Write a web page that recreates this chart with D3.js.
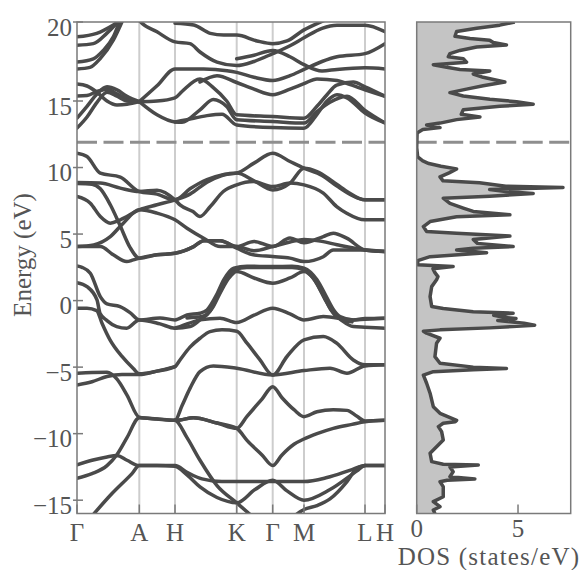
<!DOCTYPE html>
<html>
<head>
<meta charset="utf-8">
<script src="https://cdn.jsdelivr.net/npm/d3@7"></script>
<style>
  html, body { margin: 0; padding: 0; background: #fff; }
  svg { display: block; }
  text { font-family: "Liberation Serif", "DejaVu Serif", serif; fill: #555; }
</style>
</head>
<body>
<svg id="chart" width="583" height="570"></svg>
<script>
// High-symmetry points along the k-path (path length, 1/Å-like units)
const kLabels = ["Γ", "A", "H", "K", "Γ", "M", "L", "H"];
const kNodes  = [0, 0.623, 0.98, 1.597, 1.957, 2.27, 2.88, 3.08];

// Energy axis ticks (eV)
const energyTicks = [-15, -10, -5, 0, 5, 10, 15, 20];
const dosTicks = [0, 5];
const cutEnergy = 11.9;

// Bands as [k, E] samples
const lowerBands = [
  [[0.16,-16.1],[0.35,-14.5],[0.55,-13.0],[0.623,-12.4],[0.80,-12.4],[0.98,-12.45],[1.10,-13.1],[1.23,-14.0],[1.40,-14.8],[1.597,-15.2],[1.78,-14.2],[1.957,-13.5],[2.10,-14.3],[2.27,-15.0],[2.53,-14.2],[2.80,-12.8],[2.88,-12.4],[3.08,-12.4]],
  [[0,-12.35],[0.15,-12.0],[0.30,-11.75],[0.397,-11.65],[0.50,-12.0],[0.623,-12.4],[0.80,-12.4],[0.98,-12.4],[1.10,-12.9],[1.25,-13.4],[1.45,-13.6],[1.597,-13.6],[1.957,-13.6],[2.27,-13.6],[2.50,-13.3],[2.75,-12.7],[2.88,-12.4],[3.08,-12.4]],
  [[0,-13.35],[0.15,-13.0],[0.30,-12.4],[0.397,-11.6],[0.50,-10.3],[0.623,-8.8],[0.80,-8.9],[0.98,-9.0],[1.10,-10.3],[1.23,-12.0],[1.40,-13.9],[1.597,-15.2],[1.75,-16.2]],
  [[2.17,-16.2],[2.27,-15.7],[2.40,-15.4],[2.53,-14.9],[2.70,-13.6],[2.80,-12.6],[2.88,-12.4]],
  [[0.98,-9.0],[1.03,-8.97],[1.163,-8.8],[1.40,-9.2],[1.597,-9.6],[1.70,-8.7],[1.85,-7.4],[1.957,-6.47],[2.05,-7.3],[2.17,-8.2],[2.27,-8.72],[2.40,-8.35],[2.563,-8.2],[2.70,-8.25],[2.80,-8.7],[2.88,-9.05],[3.08,-9.0]],
  [[0.98,-9.0],[1.03,-8.97],[1.163,-8.8],[1.40,-9.2],[1.597,-9.6],[1.70,-10.5],[1.85,-11.6],[1.957,-12.4],[2.05,-11.6],[2.17,-10.8],[2.27,-10.4],[2.40,-10.0],[2.563,-9.6],[2.75,-9.3],[2.88,-9.1],[3.08,-9.0]],
  [[0,-5.46],[0.15,-5.4],[0.30,-5.38],[0.40,-5.9],[0.50,-7.1],[0.623,-8.77],[0.80,-8.9],[0.98,-9.0],[1.05,-7.9],[1.13,-6.6],[1.23,-5.34],[1.363,-4.91],[1.597,-5.08],[1.957,-5.59],[2.27,-5.26],[2.53,-5.08],[2.70,-5.46],[2.88,-4.91],[3.08,-4.83]],
  [[0,-6.34],[0.15,-6.1],[0.30,-5.7],[0.45,-5.55],[0.623,-5.56],[0.80,-5.3],[0.98,-4.96],[1.03,-4.46],[1.13,-3.5],[1.23,-2.83],[1.33,-2.33],[1.45,-2.2],[1.597,-2.3],[1.70,-3.2],[1.83,-4.46],[1.957,-5.59],[2.10,-4.2],[2.27,-2.95],[2.463,-2.7],[2.597,-3.2],[2.763,-4.46],[2.88,-4.83],[3.08,-4.83]],
  [[0,-0.57],[0.10,-0.57],[0.197,-0.75],[0.25,-1.7],[0.33,-2.95],[0.45,-4.2],[0.563,-5.1],[0.623,-5.5],[0.80,-5.3],[0.98,-4.96]]
];

const valenceBands = [
  [[0,2.6],[0.05,2.5],[0.133,2.06],[0.233,0.3],[0.30,-0.25],[0.43,-0.45],[0.53,-0.9],[0.623,-1.45],[0.83,-1.3],[0.98,-1.45],[1.10,-1.08],[1.23,-0.95],[1.30,-0.7],[1.40,0.5],[1.467,1.56],[1.567,2.44],[1.70,2.58],[1.957,2.56],[2.15,2.58],[2.27,2.44],[2.40,1.56],[2.50,0.2],[2.567,-0.7],[2.63,-1.2],[2.763,-1.45],[2.88,-1.4],[3.08,-1.32]],
  [[0,1.35],[0.10,1.05],[0.20,0.05],[0.23,-0.95],[0.30,-1.5],[0.397,-1.95],[0.497,-2.07],[0.623,-1.45],[0.83,-1.75],[0.98,-2.07],[1.13,-1.95],[1.23,-1.45],[1.33,-0.8],[1.42,0.6],[1.49,1.5],[1.58,2.35],[1.70,2.48],[1.957,2.48],[2.15,2.48],[2.26,2.35],[2.38,1.5],[2.48,0.1],[2.56,-0.9],[2.65,-1.5],[2.763,-1.95],[2.88,-2.0],[3.08,-2.07]],
  [[1.10,-1.3],[1.25,-1.2],[1.35,-0.6],[1.44,0.7],[1.52,1.7],[1.597,2.18],[1.77,1.7],[1.957,1.31],[2.13,1.7],[2.27,2.18],[2.36,1.7],[2.45,0.6],[2.54,-0.7],[2.62,-1.3],[2.75,-1.6]],
  [[0.98,-2.07],[1.03,-1.95],[1.23,-1.45],[1.43,-1.32],[1.597,-1.65],[1.77,-1.1],[1.957,-0.57],[2.13,-1.0],[2.27,-1.45],[2.463,-1.2],[2.763,-1.45],[2.88,-1.35],[3.08,-1.32]]
];

const middleBands = [
  [[0,11.08],[0.10,10.83],[0.233,9.58],[0.433,9.28],[0.623,8.2],[0.80,8.0],[0.98,7.57],[1.13,8.4],[1.30,9.1],[1.45,9.45],[1.597,9.58],[1.77,10.33],[1.957,11.08],[2.13,10.45],[2.27,9.95],[2.45,9.4],[2.60,8.6],[2.75,7.9],[2.88,7.57],[3.08,7.57]],
  [[0,8.87],[0.233,8.83],[0.433,8.45],[0.623,8.2],[0.80,8.3],[0.98,7.57],[1.03,7.19],[1.16,6.69],[1.23,6.32],[1.333,7.07],[1.463,8.2],[1.597,8.7],[1.763,8.95],[1.957,8.57],[2.13,8.83],[2.27,8.7],[2.463,8.08],[2.597,7.07],[2.697,6.57],[2.88,6.07],[3.08,6.07]],
  [[0,8.8],[0.15,8.75],[0.233,8.4],[0.333,7.2],[0.433,5.6],[0.53,4.0],[0.623,3.19],[0.80,3.44],[0.98,3.56],[1.167,4.06],[1.267,4.5],[1.433,4.5],[1.597,4.06],[1.77,4.45],[1.957,4.06],[2.13,4.7],[2.27,4.35],[2.463,4.81],[2.563,5.07],[2.697,4.69],[2.88,3.81],[3.08,3.69]],
  [[0,7.82],[0.133,7.32],[0.233,6.32],[0.333,5.82],[0.433,6.07],[0.623,6.82],[0.80,7.2],[0.98,7.57],[1.13,8.0],[1.30,8.9],[1.45,9.4],[1.597,9.58],[1.77,9.0],[1.957,8.32],[2.13,8.83],[2.27,9.95],[2.40,9.7],[2.55,9.0],[2.70,8.2],[2.88,7.57],[3.08,7.57]],
  [[0,4.06],[0.167,4.19],[0.333,4.81],[0.463,5.82],[0.623,6.82],[0.80,6.57],[0.98,6.07],[1.10,5.44],[1.267,4.69],[1.433,4.06],[1.597,4.06],[1.77,3.75],[1.957,4.06],[2.13,4.4],[2.27,4.6],[2.45,4.45],[2.60,4.2],[2.88,3.81],[3.08,3.69]],
  [[0,4.06],[0.233,4.06],[0.363,3.44],[0.497,2.93],[0.563,3.06],[0.623,3.19],[0.80,3.44],[0.98,3.56],[1.167,4.06],[1.267,4.5],[1.433,4.5],[1.597,3.94],[1.763,3.44],[1.957,3.31],[2.13,3.19],[2.27,2.93],[2.463,3.3],[2.563,3.8],[2.88,3.81],[3.08,3.69]]
];

const conductionBands = [
  [[0,19.06],[0.197,19.28],[0.363,19.81],[0.48,20.3]],
  [[0,18.53],[0.163,18.63],[0.297,19.28],[0.397,19.92],[0.45,20.3]],
  [[0,17.46],[0.163,17.67],[0.263,18.2],[0.363,19.06],[0.43,20.06],[0.45,20.3]],
  [[0,17.03],[0.13,17.13],[0.23,17.67],[0.363,18.85],[0.47,20.3]],
  [[0,16.07],[0.10,15.95],[0.20,15.55],[0.30,15.0],[0.40,14.7],[0.50,14.75],[0.623,14.95]],
  [[0,15.32],[0.10,15.35],[0.20,15.6],[0.30,15.75],[0.40,15.45],[0.50,15.15],[0.623,14.95]],
  [[0,13.71],[0.10,14.6],[0.20,15.45],[0.30,15.9],[0.40,15.7],[0.50,15.3],[0.623,14.95]],
  [[0,12.96],[0.10,13.8],[0.20,14.9],[0.30,15.55],[0.40,15.3],[0.50,15.0],[0.623,14.95]],
  [[0.623,14.95],[0.80,15.0],[0.98,15.2],[1.05,15.6],[1.23,16.39],[1.363,15.85],[1.497,15.0],[1.597,13.96],[1.957,13.83],[2.27,13.71],[2.40,14.6],[2.50,15.4],[2.597,16.0],[2.763,16.2],[2.88,15.9],[3.08,15.3]],
  [[0.623,14.95],[0.80,13.96],[0.98,13.42],[1.05,13.4],[1.23,14.34],[1.363,15.1],[1.497,14.59],[1.597,13.59],[1.957,13.46],[2.27,13.34],[2.40,14.2],[2.53,14.9],[2.70,15.3],[2.88,14.3],[3.08,13.35]],
  [[0.98,13.42],[1.10,13.6],[1.30,13.9],[1.45,14.0],[1.597,13.2],[1.957,13.0],[2.27,12.96],[2.40,14.0],[2.50,15.0],[2.60,15.4],[2.70,15.2],[2.88,14.1],[3.08,13.35]],
  [[0.623,14.95],[0.80,15.96],[0.98,17.03],[1.267,17.03],[1.50,16.92],[1.597,16.81],[1.77,16.5],[1.957,16.3],[2.13,16.6],[2.27,17.0],[2.45,17.5],[2.60,17.8],[2.88,18.0],[3.08,18.63]],
  [[1.23,16.2],[1.40,16.6],[1.597,16.17],[1.77,15.75],[1.957,15.4],[2.13,15.75],[2.27,16.1],[2.40,16.4],[2.60,16.3],[2.75,16.0],[2.88,15.7],[3.08,15.3]],
  [[0.60,20.3],[0.623,20.1],[0.80,19.38],[0.98,18.74],[1.13,18.63],[1.23,18.1],[1.40,17.46],[1.597,17.24],[1.77,17.5],[1.957,18.0],[2.13,18.5],[2.27,19.0],[2.45,19.6],[2.60,19.8],[2.88,19.8],[3.08,19.38]],
  [[0.98,19.92],[1.167,19.81],[1.333,19.28],[1.467,19.17],[1.597,19.17],[1.80,18.8],[1.957,18.63],[2.10,18.8],[2.27,19.5],[2.40,19.9],[2.55,20.3]],
  [[1.597,17.67],[1.77,17.9],[1.957,18.2],[2.13,17.8],[2.27,17.3],[2.45,16.9],[2.60,17.0],[2.88,17.1],[3.08,17.03]]
];

// Total density of states (states/eV) sampled on an energy grid
const dosEnergy = [20.0,19.8,19.6,19.4,19.1,18.95,18.85,18.7,18.55,18.42,18.2,18.0,17.8,17.67,17.46,17.3,17.13,17.0,16.9,16.71,16.5,16.2,15.96,15.75,15.53,15.32,15.11,14.95,14.75,14.6,14.34,14.0,13.8,13.6,13.34,13.2,13.0,12.85,12.6,11.5,10.8,10.5,10.3,10.1,9.9,9.6,9.3,9.0,8.85,8.6,8.5,8.35,8.2,8.05,7.85,7.7,7.3,6.95,6.7,6.45,6.3,5.94,5.56,5.2,5.07,4.85,4.6,4.3,4.06,3.94,3.8,3.6,3.3,3.0,2.7,2.56,2.4,2.1,1.8,1.56,1.05,0.3,-0.45,-0.6,-0.83,-0.95,-1.1,-1.25,-1.35,-1.5,-1.7,-1.85,-2.05,-2.2,-2.3,-2.45,-2.83,-3.2,-4.21,-4.71,-5.0,-5.1,-5.2,-5.34,-5.6,-6.21,-6.96,-7.97,-8.47,-9.0,-9.1,-9.22,-9.47,-9.85,-10.47,-10.98,-11.47,-12.1,-12.3,-12.35,-12.5,-12.86,-13.23,-13.4,-13.5,-13.61,-13.98,-14.74,-15.11,-15.49,-15.74,-16.0];
const dosValue  = [4.84,4.1,2.96,1.97,1.89,2.63,3.6,3.78,4.43,2.96,2.13,1.64,1.56,2.3,2.46,0.82,1.48,2.13,3.61,2.79,3.28,4.35,3.28,2.46,1.64,2.3,3.61,4.93,5.75,4.1,2.3,2.2,3.12,1.97,1.15,0.49,1.15,0.3,0.02,0.0,0.05,0.3,0.6,1.2,1.97,1.6,1.15,1.3,3.1,4.4,7.22,3.6,4.4,5.75,3.6,1.31,1.64,2.3,2.79,4.6,1.97,0.66,0.33,0.49,1.97,4.6,2.79,3.0,4.76,2.79,1.97,3.45,0.66,0.05,0.05,1.8,0.8,0.9,1.05,0.98,0.74,0.66,0.74,1.31,2.79,4.76,3.8,4.3,4.9,4.0,5.3,5.82,3.6,1.15,0.33,0.49,1.15,0.98,0.9,1.15,2.79,4.43,2.79,0.82,0.33,0.49,0.66,0.82,1.15,1.97,1.9,1.31,1.07,1.23,1.31,0.98,0.66,0.74,1.31,3.04,1.64,1.8,1.64,2.87,1.5,1.15,1.31,1.31,0.82,1.15,0.82,0.9];

const svg = d3.select("#chart");

// Shared energy scale (upper decade slightly stretched, as laid out)
const y = d3.scaleLinear().domain([-16, 15, 20]).range([513.5, 101, 22]);
const x = d3.scaleLinear().domain([0, 3.08]).range([77, 385]);
const xd = d3.scaleLinear().domain([0, 7.6]).range([416.7, 570.7]);

const yTop = y(20), yBottom = y(-16);
const frameColor = "#7a7a7a";
const bandColor = "#4a4a4a";

const defs = svg.append("defs");
defs.append("clipPath").attr("id", "bandClip")
  .append("rect").attr("x", x(0)).attr("y", yTop).attr("width", x(3.08) - x(0)).attr("height", yBottom - yTop);
defs.append("clipPath").attr("id", "dosClip")
  .append("rect").attr("x", xd(0)).attr("y", yTop).attr("width", xd(7.6) - xd(0)).attr("height", yBottom - yTop);

// ---- Band structure panel ----
const bandPanel = svg.append("g");

// vertical lines at high-symmetry points
bandPanel.selectAll("line.kline").data(kNodes.slice(1, -1)).join("line")
  .attr("class", "kline")
  .attr("x1", d => x(d)).attr("x2", d => x(d))
  .attr("y1", yTop).attr("y2", yBottom)
  .attr("stroke", "#cdcdcd").attr("stroke-width", 2);

const bandLine = d3.line()
  .x(d => x(d[0])).y(d => y(d[1]))
  .curve(d3.curveMonotoneX);

const allBands = [...lowerBands, ...valenceBands, ...middleBands, ...conductionBands];
bandPanel.append("g").attr("clip-path", "url(#bandClip)")
  .selectAll("path").data(allBands).join("path")
  .attr("d", bandLine)
  .attr("fill", "none").attr("stroke", bandColor)
  .attr("stroke-width", 3.5).attr("stroke-linejoin", "round").attr("stroke-linecap", "round");

// dashed reference energy
bandPanel.append("line")
  .attr("x1", x(0)).attr("x2", x(3.08))
  .attr("y1", y(cutEnergy)).attr("y2", y(cutEnergy))
  .attr("stroke", "#8e8e8e").attr("stroke-width", 3).attr("stroke-dasharray", "20,6.5");

// frame
bandPanel.append("rect")
  .attr("x", x(0)).attr("y", yTop).attr("width", x(3.08) - x(0)).attr("height", yBottom - yTop)
  .attr("fill", "none").attr("stroke", frameColor).attr("stroke-width", 1.5);

// energy ticks and labels
bandPanel.selectAll("line.ytick").data(energyTicks).join("line")
  .attr("class", "ytick")
  .attr("x1", x(0) - 4).attr("x2", x(0) + 6)
  .attr("y1", d => y(d)).attr("y2", d => y(d))
  .attr("stroke", frameColor).attr("stroke-width", 1.5);
bandPanel.selectAll("text.ylab").data(energyTicks).join("text")
  .attr("class", "ylab")
  .attr("x", x(0) - 5).attr("y", d => y(d) + 5)
  .attr("text-anchor", "end").attr("dominant-baseline", "central")
  .attr("font-size", 25)
  .text(d => d < 0 ? "\u2212" + Math.abs(d) : d);

// k-point ticks and labels
bandPanel.selectAll("line.xtick").data(kNodes).join("line")
  .attr("class", "xtick")
  .attr("x1", d => x(d)).attr("x2", d => x(d))
  .attr("y1", yBottom - 9).attr("y2", yBottom)
  .attr("stroke", frameColor).attr("stroke-width", 1.5);
bandPanel.selectAll("text.klab").data(kNodes).join("text")
  .attr("class", "klab")
  .attr("x", d => x(d)).attr("y", 541)
  .attr("text-anchor", "middle").attr("font-size", 25)
  .text((d, i) => kLabels[i]);

svg.append("text")
  .attr("transform", "translate(31,255) rotate(-90)")
  .attr("text-anchor", "middle").attr("font-size", 25)
  .text("Energy (eV)");

// ---- DOS panel ----
const dosPanel = svg.append("g");
const dosData = dosEnergy.map((e, i) => [e, dosValue[i]]);

dosPanel.append("path").datum(dosData)
  .attr("clip-path", "url(#dosClip)")
  .attr("d", d3.area().y(d => y(d[0])).x0(xd(0)).x1(d => xd(d[1])))
  .attr("fill", "#c4c4c4");

dosPanel.append("line")
  .attr("x1", xd(0)).attr("x2", xd(7.6))
  .attr("y1", y(cutEnergy)).attr("y2", y(cutEnergy))
  .attr("stroke", "#8e8e8e").attr("stroke-width", 3).attr("stroke-dasharray", "20,6.5");

dosPanel.append("path").datum(dosData)
  .attr("clip-path", "url(#dosClip)")
  .attr("d", d3.line().x(d => xd(d[1])).y(d => y(d[0])))
  .attr("fill", "none").attr("stroke", bandColor)
  .attr("stroke-width", 3.5).attr("stroke-linejoin", "round");

dosPanel.append("rect")
  .attr("x", xd(0)).attr("y", yTop).attr("width", xd(7.6) - xd(0)).attr("height", yBottom - yTop)
  .attr("fill", "none").attr("stroke", frameColor).attr("stroke-width", 1.5);

dosPanel.selectAll("line.dtick").data(dosTicks).join("line")
  .attr("class", "dtick")
  .attr("x1", d => xd(d)).attr("x2", d => xd(d))
  .attr("y1", yBottom - 9).attr("y2", yBottom)
  .attr("stroke", frameColor).attr("stroke-width", 1.5);
dosPanel.selectAll("text.dlab").data(dosTicks).join("text")
  .attr("class", "dlab")
  .attr("x", d => xd(d)).attr("y", 537)
  .attr("text-anchor", "middle").attr("font-size", 25)
  .text(d => d);

svg.append("text")
  .attr("x", 489).attr("y", 565)
  .attr("text-anchor", "middle").attr("font-size", 25)
  .attr("letter-spacing", 1.2)
  .text("DOS (states/eV)");
</script>
</body>
</html>
